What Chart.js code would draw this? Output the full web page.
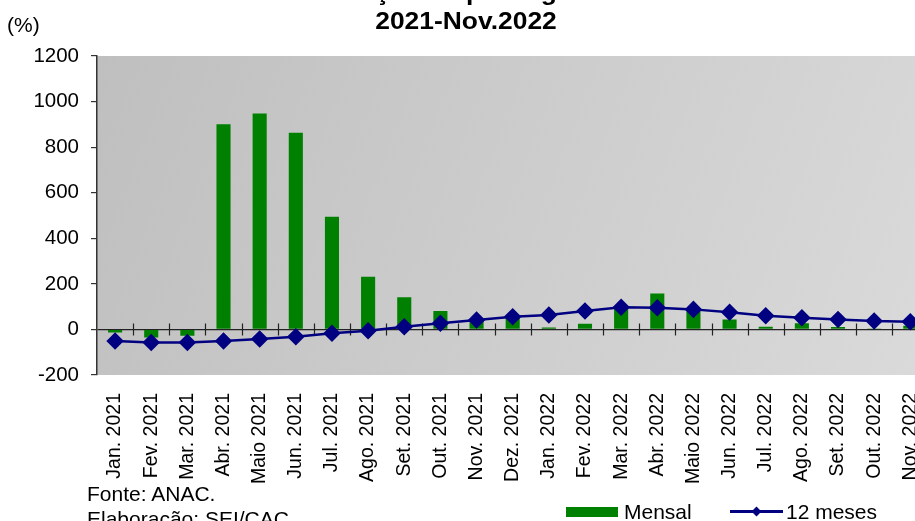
<!DOCTYPE html>
<html>
<head>
<meta charset="utf-8">
<title>Variação de passageiros</title>
<script src="https://cdn.jsdelivr.net/npm/chart.js@4.4.1/dist/chart.umd.min.js"></script>
<style>
  html, body { margin: 0; padding: 0; background: #fff; overflow: hidden; }
  body { width: 915px; height: 521px; position: relative; font-family: 'Liberation Sans', Arial, sans-serif; color: #000; }
  #chart { position: absolute; left: 0; top: 0; display: block; }
  .txt { position: absolute; white-space: nowrap; }
  #title { left: 0; width: 932px; top: -23.5px; text-align: center; font-weight: bold; font-size: 24px; line-height: 29px; transform: scaleX(1.1); transform-origin: 466px 0; }
  #unit { left: 7px; top: 13px; font-size: 21px; line-height: 24px; }
  #notes { left: 87px; top: 481px; font-size: 21px; line-height: 25px; }
  .leg-box { position: absolute; left: 566px; top: 507px; width: 52px; height: 10px; background: #008000; }
  .leg-line { position: absolute; left: 730px; top: 510px; width: 53px; height: 3px; background: #000080; }
  .leg-dia { position: absolute; left: 753px; top: 508px; width: 7px; height: 7px; background: #000080; transform: rotate(45deg); }
  .leg-txt { position: absolute; top: 500px; font-size: 21px; line-height: 24px; }
</style>
</head>
<body>
<canvas id="chart" width="952" height="521"></canvas>
<div id="title" class="txt">Variação de passageiros<br>2021-Nov.2022</div>
<div id="unit" class="txt">(%)</div>
<div id="notes" class="txt">Fonte: ANAC.<br>Elaboração: SEI/CAC.</div>
<div class="leg-box"></div>
<div class="leg-txt txt" style="left:624px">Mensal</div>
<div class="leg-line"></div>
<div class="leg-dia"></div>
<div class="leg-txt txt" style="left:786px">12 meses</div>

<script>
const months = ['Jan. 2021', 'Fev. 2021', 'Mar. 2021', 'Abr. 2021', 'Maio 2021', 'Jun. 2021',
  'Jul. 2021', 'Ago. 2021', 'Set. 2021', 'Out. 2021', 'Nov. 2021', 'Dez. 2021',
  'Jan. 2022', 'Fev. 2022', 'Mar. 2022', 'Abr. 2022', 'Maio 2022', 'Jun. 2022',
  'Jul. 2022', 'Ago. 2022', 'Set. 2022', 'Out. 2022', 'Nov. 2022'];

const mensal = [-13, -35, -28, 901, 948, 863, 494, 231, 141, 81, 40, 60,
  9, 25, 90, 158, 80, 44, 12, 27, 11, 2, 16];

const dozeMeses = [-51, -57, -57, -51, -42, -32, -17, -6, 12, 27, 41, 56,
  63, 81, 97, 95, 88, 75, 60, 51, 44, 37, 34];

const yMin = -200;
const yMax = 1200;
const yStep = 200;

Chart.defaults.font.family = "'Liberation Sans', Arial, sans-serif";
Chart.defaults.color = '#000';

// grey gradient behind the plot
const plotBg = {
  id: 'plotBg',
  beforeDraw(chart) {
    const { ctx, chartArea: a } = chart;
    const g = ctx.createLinearGradient(a.left, a.top, a.right, a.bottom);
    g.addColorStop(0, '#bfbfbf');
    g.addColorStop(1, '#dadada');
    ctx.save();
    ctx.fillStyle = g;
    ctx.fillRect(a.left, a.top, a.right - a.left, a.bottom - a.top);
    ctx.restore();
  }
};

// cross tick marks on the zero line, between categories
const zeroTicks = {
  id: 'zeroTicks',
  beforeDatasetsDraw(chart) {
    const { ctx, scales: { x, y } } = chart;
    const y0 = y.getPixelForValue(0);
    ctx.save();
    ctx.strokeStyle = '#222';
    ctx.lineWidth = 1.2;
    ctx.beginPath();
    for (let i = 1; i < months.length; i++) {
      const px = Math.round((x.getPixelForValue(i - 1) + x.getPixelForValue(i)) / 2) + 0.5;
      ctx.moveTo(px, y0 - 6);
      ctx.lineTo(px, y0 + 6);
    }
    ctx.stroke();
    ctx.restore();
  }
};

new Chart(document.getElementById('chart'), {
  type: 'bar',
  data: {
    labels: months,
    datasets: [
      {
        type: 'line',
        label: '12 meses',
        data: dozeMeses,
        borderColor: '#000080',
        borderWidth: 2.5,
        backgroundColor: '#000080',
        pointStyle: 'rectRot',
        pointRadius: 7,
        pointBackgroundColor: '#000080',
        pointBorderColor: '#000080',
        tension: 0,
        order: 0
      },
      {
        label: 'Mensal',
        data: mensal,
        backgroundColor: '#008000',
        borderWidth: 0,
        barPercentage: 0.39,
        categoryPercentage: 1,
        order: 1
      }
    ]
  },
  options: {
    responsive: false,
    animation: false,
    devicePixelRatio: 1,
    layout: { padding: { top: 56, right: 12.7, bottom: 0, left: 0 } },
    plugins: {
      legend: { display: false },
      tooltip: { enabled: false },
      title: { display: false }
    },
    scales: {
      x: {
        grid: { display: false, drawTicks: false },
        border: { display: false },
        ticks: {
          autoSkip: false,
          minRotation: 90,
          maxRotation: 90,
          padding: 18,
          font: { size: 19.5 }
        },
        afterFit(s) { s.height = 146; }
      },
      y: {
        min: yMin,
        max: yMax,
        ticks: {
          stepSize: yStep,
          padding: 12,
          font: { size: 20.5 },
          callback: (v) => String(v)
        },
        grid: {
          color: (c) => (c.tick && c.tick.value === 0 ? '#222' : 'rgba(0,0,0,0)'),
          lineWidth: 1.2,
          tickColor: '#333',
          tickLength: 6
        },
        border: { color: '#333', width: 1.5 },
        afterFit(s) { s.width = 97; }
      }
    }
  },
  plugins: [plotBg, zeroTicks]
});
</script>
</body>
</html>
